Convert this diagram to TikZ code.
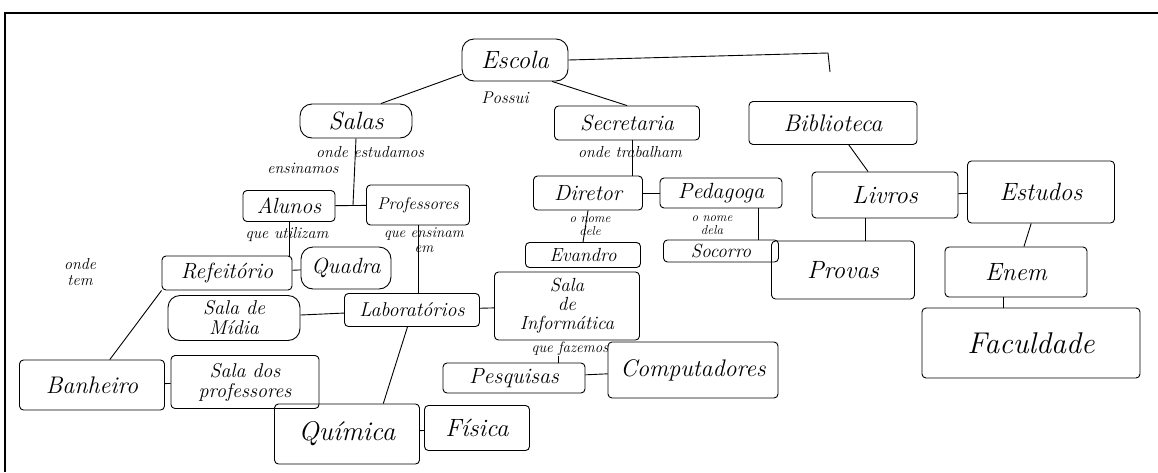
\documentclass[tikz,border=0pt]{standalone}
\usepackage{fontspec}
\newcommand{\fsz}[1]{\fontsize{#1}{#1}\selectfont\itshape}
\begin{document}
\begin{tikzpicture}[x=1pt,y=-1pt,
  every path/.style={line width=0.9pt},
  box/.style={draw, rounded corners=4pt, inner sep=1pt, align=center, font=\fsz{22}},
  rbox/.style={box, rounded corners=12pt},
  lbl/.style={inner sep=0pt, align=center, font=\fsz{16}}]
\useasboundingbox (0,0) rectangle (1158,472);
\fill[white] (0,0) rectangle (1158,472);
\draw[line width=2.4pt] (5,472) -- (5,13) -- (1158,13);

% nodes
\node[rbox, minimum width=106, minimum height=42, font=\fsz{25}] (escola) at (515,60) {Escola};
\node[lbl, font=\fsz{17}] (possui) at (505,98) {Possui};
\node[rbox, minimum width=112, minimum height=34, font=\fsz{25}] (salas) at (356,121) {Salas};
\node[box, minimum width=145, minimum height=34] (secretaria) at (627,123) {Secretaria};
\node[box, minimum width=168, minimum height=43, font=\fsz{24}] (biblioteca) at (833,123) {Biblioteca};
\node[lbl] (ondeest) at (370,152) {onde estudamos};
\node[lbl] (ensin) at (303,168) {ensinamos};
\node[lbl] (ondetrab) at (630,152) {onde trabalham};
\node[box, minimum width=92, minimum height=31] (alunos) at (289,206) {Alunos};
\node[box, minimum width=103, minimum height=40, font=\fsz{17}] (professores) at (418,205) {Professores};
\node[lbl] (queutil) at (287,234) {que utilizam};
\node[lbl, font=\fsz{15}] (queens) at (424,240) {que ensinam\\em};
\node[box, minimum width=109, minimum height=34] (diretor) at (588,193) {Diretor};
\node[box, minimum width=122, minimum height=30] (pedagoga) at (721,193) {Pedagoga};
\node[lbl, font=\fsz{13}] (nomedele) at (590,226) {o nome\\dele};
\node[lbl, font=\fsz{13}] (nomedela) at (712,225) {o nome\\dela};
\node[box, minimum width=115, minimum height=25, font=\fsz{19}] (evandro) at (583,255) {Evandro};
\node[box, minimum width=115, minimum height=22, font=\fsz{19}] (socorro) at (721,251) {Socorro};
\node[box, minimum width=146, minimum height=46, font=\fsz{25}] (livros) at (885,195) {Livros};
\node[box, minimum width=147, minimum height=62, font=\fsz{25}] (estudos) at (1041,192) {Estudos};
\node[box, minimum width=143, minimum height=58, font=\fsz{25}] (provas) at (843,270) {Provas};
\node[box, minimum width=142, minimum height=50, font=\fsz{25}] (enem) at (1016,272) {Enem};
\node[box, minimum width=218, minimum height=70, font=\fsz{30}] (faculdade) at (1031,343) {Faculdade};
\node[lbl] (ondetem) at (80,272) {onde\\tem};
\node[box, minimum width=130, minimum height=34] (refeitorio) at (227,273) {Refeitório};
\node[rbox, minimum width=90, minimum height=42] (quadra) at (346,268) {Quadra};
\node[rbox, minimum width=132, minimum height=45, font=\fsz{20}] (midia) at (234,318) {Sala de\\Mídia};
\node[box, minimum width=135, minimum height=33, font=\fsz{20}] (laboratorios) at (412,310) {Laboratórios};
\node[box, minimum width=145, minimum height=68, font=\fsz{19}] (informatica) at (567,306) {Sala\\de\\Informática};
\node[lbl, font=\fsz{15}] (quefaz) at (570,349) {que fazemos};
\node[box, minimum width=142, minimum height=30] (pesquisas) at (514,378) {Pesquisas};
\node[box, minimum width=170, minimum height=56, font=\fsz{24}] (computadores) at (693,370) {Computadores};
\node[box, minimum width=145, minimum height=50, font=\fsz{24}] (banheiro) at (92,385) {Banheiro};
\node[box, minimum width=148, minimum height=53, font=\fsz{20}] (salaprof) at (245,382) {Sala dos\\professores};
\node[box, minimum width=145, minimum height=60, font=\fsz{27}] (quimica) at (347,434) {Química};
\node[box, minimum width=105, minimum height=45, font=\fsz{25}] (fisica) at (477,428) {Física};

% helper coordinates
\coordinate (bibend) at (830,72);
\coordinate (ap) at (353,205);
\coordinate (xsec) at (632,0);
\coordinate (xped) at (758,0);
\coordinate (xliv) at (865,0);
\coordinate (xenem) at (1003,0);
\coordinate (xqf) at (558,0);

% connectors
\draw (escola.195) -- (salas.35);
\draw (escola.-30) -- (secretaria.north);
\draw (escola.east) -- (828,53) -- (bibend);
\draw (salas.south) -- (ap);
\draw (alunos) -- (professores);
\draw (alunos.south) -- (alunos.south |- refeitorio.north);
\draw (professores.south) -- (professores.south |- laboratorios.north);
\draw (refeitorio) -- (quadra);
\draw (refeitorio.south west) -- (banheiro.55);
\draw (midia) -- (laboratorios);
\draw (laboratorios) -- (informatica);
\draw (laboratorios.255) -- (quimica.40);
\draw (quefaz.south -| xqf) -- (pesquisas.north -| xqf);
\draw (pesquisas) -- (computadores);
\draw (banheiro) -- (salaprof);
\draw (quimica) -- (fisica);
\draw (secretaria.south -| xsec) -- (diretor.north -| xsec);
\draw (diretor) -- (pedagoga);
\draw (diretor.south) -- (evandro.north);
\draw (pedagoga.south -| xped) -- (socorro.north -| xped);
\draw (biblioteca) -- (livros);
\draw (livros) -- (estudos);
\draw (livros.south -| xliv) -- (provas.north -| xliv);
\draw (estudos) -- (enem);
\draw (enem.south -| xenem) -- (faculdade.north -| xenem);
\end{tikzpicture}
\end{document}
